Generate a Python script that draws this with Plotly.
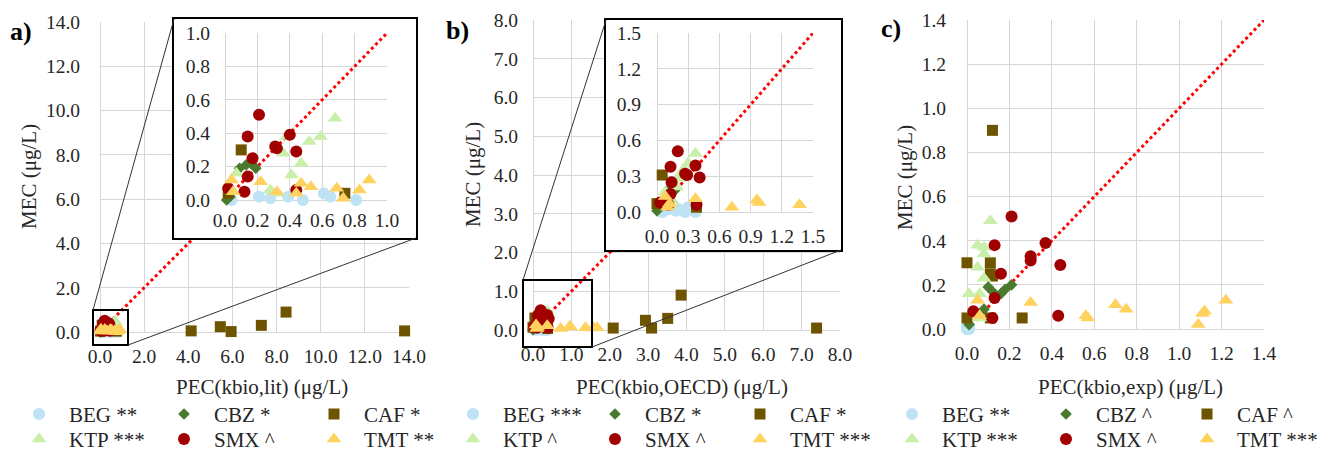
import plotly.graph_objects as go

W, H = 1318, 451
FONT = "Liberation Serif"
TXT = "#262626"
GRID = "#d6d6d6"

# ---------------- data (PEC = x, MEC = y) ----------------
# panel a : PEC(kbio,lit)
A_BEG_PEC = [0.04, 0.21, 0.28, 0.39, 0.48, 0.61, 0.65, 0.81]
A_BEG_MEC = [0.00, 0.02, 0.01, 0.02, 0.00, 0.04, 0.02, 0.00]
A_CBZ_PEC = [0.09, 0.13, 0.16, 0.19, 0.03, 0.01]
A_CBZ_MEC = [0.19, 0.21, 0.22, 0.19, 0.02, 0.00]
A_CAF_PEC = [0.10, 0.02, 0.74, 4.13, 5.45, 5.94, 7.31, 8.43, 13.8]
A_CAF_MEC = [0.30, 0.04, 0.04, 0.05, 0.24, 0.02, 0.30, 0.90, 0.05]
A_KTP_PEC = [0.68, 0.59, 0.52, 0.38, 0.36, 0.47, 0.41, 0.07, 0.28, 0.32]
A_KTP_MEC = [0.49, 0.38, 0.35, 0.38, 0.28, 0.22, 0.15, 0.16, 0.06, 0.04]
A_SMX_PEC = [0.21, 0.14, 0.40, 0.31, 0.32, 0.17, 0.44, 0.14, 0.12, 0.02, 0.44]
A_SMX_MEC = [0.51, 0.38, 0.39, 0.32, 0.31, 0.25, 0.29, 0.14, 0.05, 0.07, 0.06]
A_TMT_PEC = [0.04, 0.05, 0.22, 0.32, 0.44, 0.47, 0.53, 0.69, 0.73, 0.83, 0.89]
A_TMT_MEC = [0.12, 0.05, 0.11, 0.05, 0.04, 0.10, 0.08, 0.07, 0.01, 0.06, 0.12]

# panel b : PEC(kbio,OECD)
B_BEG_PEC = [0.05, 0.10, 0.18, 0.22, 0.27, 0.30, 0.33, 0.37]
B_BEG_MEC = [0.00, 0.02, 0.01, 0.02, 0.00, 0.04, 0.02, 0.00]
B_CBZ_PEC = [0.10, 0.12, 0.14, 0.17, 0.03, 0.00]
B_CBZ_MEC = [0.17, 0.19, 0.20, 0.18, 0.04, 0.01]
B_CAF_PEC = [0.05, 0.00, 0.38, 2.09, 2.93, 3.09, 3.51, 3.86, 7.39]
B_CAF_MEC = [0.31, 0.07, 0.04, 0.05, 0.25, 0.05, 0.30, 0.90, 0.05]
B_KTP_PEC = [0.37, 0.30, 0.26, 0.24, 0.20, 0.19, 0.11, 0.08, 0.12, 0.15]
B_KTP_MEC = [0.49, 0.41, 0.36, 0.33, 0.28, 0.21, 0.13, 0.17, 0.06, 0.09]
B_SMX_PEC = [0.20, 0.13, 0.37, 0.27, 0.29, 0.14, 0.41, 0.13, 0.11, 0.03, 0.38]
B_SMX_MEC = [0.51, 0.38, 0.39, 0.32, 0.31, 0.25, 0.29, 0.15, 0.06, 0.08, 0.06]
B_TMT_PEC = [0.08, 0.10, 0.37, 0.72, 0.96, 0.98, 1.37, 1.58, 1.67, 0.12]
B_TMT_MEC = [0.13, 0.04, 0.11, 0.04, 0.10, 0.08, 0.06, 0.05, 0.06, 0.07]

# panel c : PEC(kbio,exp)
C_BEG_PEC = [0.00, 0.01, 0.00, 0.01, 0.00, 0.01, 0.00, 0.00]
C_BEG_MEC = [0.00, 0.01, 0.01, 0.00, 0.00, 0.01, 0.00, 0.01]
C_CBZ_PEC = [0.10, 0.12, 0.16, 0.18, 0.21, 0.08, 0.01]
C_CBZ_MEC = [0.19, 0.17, 0.16, 0.18, 0.20, 0.09, 0.02]
C_CAF_PEC = [0.12, 0.00, 0.11, 0.11, 0.12, 0.26, 0.00, 0.11]
C_CAF_MEC = [0.90, 0.30, 0.30, 0.25, 0.24, 0.05, 0.05, 0.05]
C_KTP_PEC = [0.11, 0.05, 0.08, 0.08, 0.05, 0.08, 0.01, 0.06, 0.06]
C_KTP_MEC = [0.49, 0.38, 0.37, 0.34, 0.28, 0.23, 0.16, 0.16, 0.05]
C_SMX_PEC = [0.21, 0.13, 0.37, 0.30, 0.30, 0.16, 0.44, 0.13, 0.12, 0.03, 0.43]
C_SMX_MEC = [0.51, 0.38, 0.39, 0.33, 0.31, 0.25, 0.29, 0.14, 0.05, 0.08, 0.06]
C_TMT_PEC = [0.05, 0.06, 0.30, 0.56, 0.57, 0.70, 0.75, 1.09, 1.11, 1.12, 1.22]
C_TMT_MEC = [0.13, 0.06, 0.12, 0.06, 0.05, 0.11, 0.09, 0.02, 0.07, 0.08, 0.13]

# legend labels
A_NAMES = ["BEG **", "CBZ *", "CAF *", "KTP ***", "SMX ^", "TMT **"]
B_NAMES = ["BEG ***", "CBZ *", "CAF *", "KTP ^", "SMX ^", "TMT ***"]
C_NAMES = ["BEG **", "CBZ ^", "CAF ^", "KTP ***", "SMX ^", "TMT ***"]

# axis ranges / ticks
A_RANGE, A_DTICK = [0, 14], 2
A_IN_RANGE, A_IN_DTICK = [0, 1], 0.2
B_RANGE, B_DTICK = [0, 8], 1
B_IN_RANGE, B_IN_DTICK = [0, 1.5], 0.3
C_RANGE, C_DTICK = [0, 1.4], 0.2

# ---------------- styles ----------------
STYLE = {
    "BEG": dict(symbol="circle", size=12, color="#bde3f5"),
    "CBZ": dict(symbol="diamond", size=9, color="#4b7a2e"),
    "CAF": dict(symbol="square", size=11, color="#6f5400"),
    "KTP": dict(symbol="triangle-up", size=13, color="#c9efab"),
    "SMX": dict(symbol="circle", size=12, color="#a10000"),
    "TMT": dict(symbol="triangle-up", size=13, color="#ffd25f"),
}
ORDER = ["BEG", "CBZ", "CAF", "KTP", "SMX", "TMT"]


def fx(p):
    return p / W


def fy(p):
    return 1 - p / H


def xdom(a, b):
    return [fx(a), fx(b)]


def ydom(top, bottom):
    return [fy(bottom), fy(top)]


fig = go.Figure()

panels = {
    "a": dict(data={"BEG": (A_BEG_PEC, A_BEG_MEC), "CBZ": (A_CBZ_PEC, A_CBZ_MEC),
                    "CAF": (A_CAF_PEC, A_CAF_MEC), "KTP": (A_KTP_PEC, A_KTP_MEC),
                    "SMX": (A_SMX_PEC, A_SMX_MEC), "TMT": (A_TMT_PEC, A_TMT_MEC)},
              names=A_NAMES, main=("x", "y"), rng=A_RANGE, inset=("x3", "y3"), in_rng=A_IN_RANGE),
    "b": dict(data={"BEG": (B_BEG_PEC, B_BEG_MEC), "CBZ": (B_CBZ_PEC, B_CBZ_MEC),
                    "CAF": (B_CAF_PEC, B_CAF_MEC), "KTP": (B_KTP_PEC, B_KTP_MEC),
                    "SMX": (B_SMX_PEC, B_SMX_MEC), "TMT": (B_TMT_PEC, B_TMT_MEC)},
              names=B_NAMES, main=("x4", "y4"), rng=B_RANGE, inset=("x6", "y6"), in_rng=B_IN_RANGE),
    "c": dict(data={"BEG": (C_BEG_PEC, C_BEG_MEC), "CBZ": (C_CBZ_PEC, C_CBZ_MEC),
                    "CAF": (C_CAF_PEC, C_CAF_MEC), "KTP": (C_KTP_PEC, C_KTP_MEC),
                    "SMX": (C_SMX_PEC, C_SMX_MEC), "TMT": (C_TMT_PEC, C_TMT_MEC)},
              names=C_NAMES, main=("x7", "y7"), rng=C_RANGE, inset=None, in_rng=None),
}

LEG_COLS = {"a": [39, 184, 334], "b": [473, 615, 760], "c": [912, 1066, 1207]}
LEG_ROWS = [414, 439]
LEG_FONT = 21
legend_layouts = {}
leg_counter = [0]


def new_legend(cx, cy):
    leg_counter[0] += 1
    k = leg_counter[0]
    name = "legend" if k == 1 else f"legend{k}"
    item_h = LEG_FONT * 1.3 + 3
    legend_layouts[name] = dict(
        x=fx(cx - 30), xanchor="left", y=fy(cy - (item_h / 2 + 5)), yanchor="top",
        bgcolor="rgba(0,0,0,0)", borderwidth=0, itemwidth=50,
        font=dict(family=FONT, size=LEG_FONT, color=TXT),
    )
    return name


def identity(xa, ya, rng):
    fig.add_trace(go.Scatter(x=rng, y=rng, xaxis=xa, yaxis=ya, mode="lines",
                             line=dict(color="#ff0000", width=3, dash="dot"),
                             showlegend=False, hoverinfo="skip"))


for key, p in panels.items():
    # main
    mx, my = p["main"]
    identity(mx, my, p["rng"])
    for i, s in enumerate(ORDER):
        xs, ys = p["data"][s]
        st = STYLE[s]
        row, col = divmod(i, 3)
        lg = new_legend(LEG_COLS[key][col], LEG_ROWS[row])
        fig.add_trace(go.Scatter(
            x=xs, y=ys, xaxis=mx, yaxis=my, mode="markers", cliponaxis=False,
            marker=dict(symbol=st["symbol"], size=st["size"], color=st["color"], line=dict(width=0)),
            name=p["names"][i], legend=lg, showlegend=True, hoverinfo="skip"))
    # inset
    if p["inset"]:
        ix, iy = p["inset"]
        identity(ix, iy, p["in_rng"])
        lim = p["in_rng"][1]
        for s in ORDER:
            xs, ys = p["data"][s]
            st = STYLE[s]
            pts = [(a, b) for a, b in zip(xs, ys) if a <= lim and b <= lim]
            fig.add_trace(go.Scatter(
                x=[q[0] for q in pts], y=[q[1] for q in pts], xaxis=ix, yaxis=iy,
                mode="markers", cliponaxis=False,
                marker=dict(symbol=st["symbol"], size=st["size"], color=st["color"], line=dict(width=0)),
                showlegend=False, hoverinfo="skip"))

# frames (white boxes behind insets)
for fxid, fyid in [("x2", "y2"), ("x5", "y5")]:
    fig.add_trace(go.Scatter(x=[None], y=[None], xaxis=fxid, yaxis=fyid, showlegend=False,
                             hoverinfo="skip", mode="markers"))


def data_axis(dom, rng, dtick, anchor, standoff):
    return dict(domain=dom, range=rng, dtick=dtick, tick0=0, anchor=anchor,
                showgrid=True, gridcolor=GRID, gridwidth=1.3,
                zeroline=True, zerolinecolor=GRID, zerolinewidth=1.3,
                showline=False, ticks="", tickformat=".1f",
                tickfont=dict(family=FONT, size=19.5, color=TXT),
                ticklabelstandoff=standoff, fixedrange=True)


def frame_axis(dom, anchor):
    return dict(domain=dom, range=[0, 1], anchor=anchor, showgrid=False, zeroline=False,
                showticklabels=False, ticks="", showline=True, mirror=True,
                linecolor="black", linewidth=2, fixedrange=True)


layout = dict(
    width=W, height=H,
    margin=dict(l=0, r=0, t=0, b=0, autoexpand=False),
    paper_bgcolor="white", plot_bgcolor="white",
    hovermode=False,
    font=dict(family=FONT, color=TXT),
    # panel a
    xaxis=data_axis(xdom(100, 409), A_RANGE, A_DTICK, "y", 10),
    yaxis=data_axis(ydom(22, 332), A_RANGE, A_DTICK, "x", 19),
    xaxis2=frame_axis(xdom(174, 416), "y2"),
    yaxis2=frame_axis(ydom(19, 238), "x2"),
    xaxis3=data_axis(xdom(225, 387), A_IN_RANGE, A_IN_DTICK, "y3", 6),
    yaxis3=data_axis(ydom(33, 200), A_IN_RANGE, A_IN_DTICK, "x3", 14),
    # panel b
    xaxis4=data_axis(xdom(533, 840), B_RANGE, B_DTICK, "y4", 10),
    yaxis4=data_axis(ydom(20, 330), B_RANGE, B_DTICK, "x4", 14),
    xaxis5=frame_axis(xdom(606, 841), "y5"),
    yaxis5=frame_axis(ydom(20, 250), "x5"),
    xaxis6=data_axis(xdom(657, 813), B_IN_RANGE, B_IN_DTICK, "y6", 10),
    yaxis6=data_axis(ydom(33, 212), B_IN_RANGE, B_IN_DTICK, "x6", 15),
    # panel c
    xaxis7=data_axis(xdom(967, 1264), C_RANGE, C_DTICK, "y7", 10),
    yaxis7=data_axis(ydom(20, 329), C_RANGE, C_DTICK, "x7", 20),
)
layout.update(legend_layouts)
fig.update_layout(**layout)

# zoom boxes and connector lines
shapes = []
for (bx0, by0, bx1, by1), (fx0, fy0, fx1, fy1) in [
    ((93, 310, 128, 345), (174, 19, 416, 238)),
    ((523, 280, 592, 347), (606, 20, 841, 250)),
]:
    shapes.append(dict(type="rect", xref="paper", yref="paper", x0=fx(bx0), x1=fx(bx1),
                       y0=fy(by1), y1=fy(by0), line=dict(color="black", width=2), layer="above"))
    shapes.append(dict(type="line", xref="paper", yref="paper", x0=fx(bx0), y0=fy(by0),
                       x1=fx(fx0), y1=fy(fy0), line=dict(color="#333333", width=1), layer="above"))
    shapes.append(dict(type="line", xref="paper", yref="paper", x0=fx(bx1), y0=fy(by1),
                       x1=fx(fx1), y1=fy(fy1), line=dict(color="#333333", width=1), layer="above"))
fig.update_layout(shapes=shapes)

# axis titles and panel labels
ann = []
for cx, cy in [(29, 177), (473, 175), (905, 178)]:
    ann.append(dict(text="MEC (μg/L)", x=fx(cx), y=fy(cy), xref="paper", yref="paper",
                    textangle=-90, showarrow=False, xanchor="center", yanchor="middle",
                    font=dict(family=FONT, size=21, color=TXT)))
for t, cx in [("PEC(kbio,lit) (μg/L)", 262), ("PEC(kbio,OECD) (μg/L)", 682),
              ("PEC(kbio,exp) (μg/L)", 1130)]:
    ann.append(dict(text=t, x=fx(cx), y=fy(387), xref="paper", yref="paper",
                    showarrow=False, xanchor="center", yanchor="middle",
                    font=dict(family=FONT, size=21, color=TXT)))
for t, cx, cy in [("a)", 21, 32), ("b)", 457, 30), ("c)", 891, 28)]:
    ann.append(dict(text=f"<b>{t}</b>", x=fx(cx), y=fy(cy), xref="paper", yref="paper",
                    showarrow=False, xanchor="center", yanchor="middle",
                    font=dict(family=FONT, size=26, color="black")))
fig.update_layout(annotations=ann)

fig.write_html("out.html")
